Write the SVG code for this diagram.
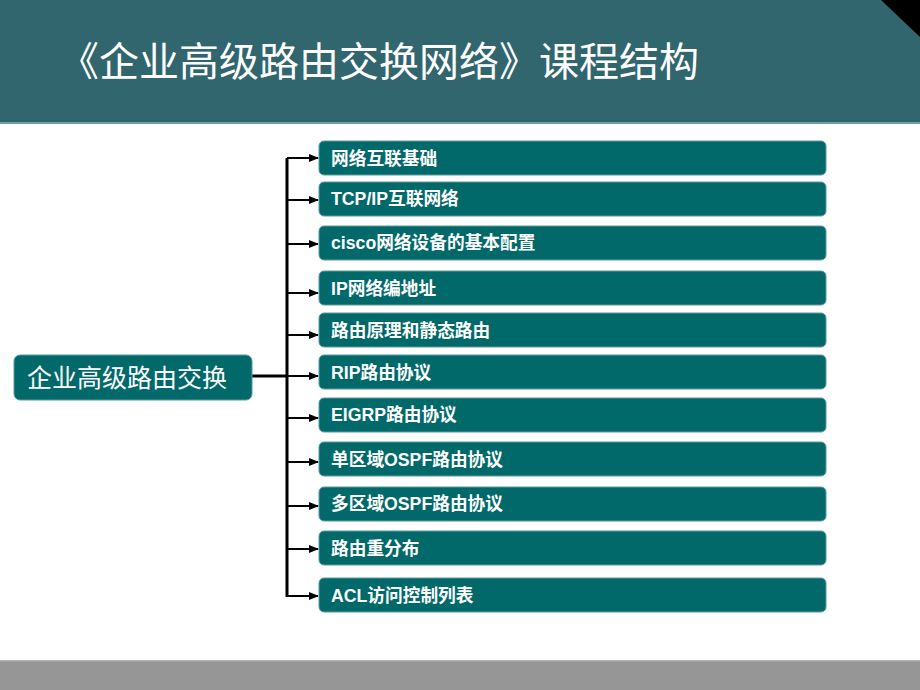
<svg xmlns="http://www.w3.org/2000/svg" width="920" height="690" viewBox="0 0 920 690">
<defs>
<style>
.box{fill:#02696A;stroke:#5E9A9C;stroke-width:1}
.lbl{fill:#ffffff;font-family:"Liberation Sans","Noto Sans CJK SC",sans-serif;font-weight:bold;font-size:17.7px}
.conn{stroke:#000;stroke-width:3;fill:none}
.arr{stroke:#000;stroke-width:2;fill:none}
</style>
<marker id="ah" markerWidth="10" markerHeight="10" refX="9" refY="5" orient="auto" markerUnits="userSpaceOnUse">
<path d="M0,1 L10,5 L0,9 Z" fill="#000"/>
</marker>
</defs>
<rect x="0" y="0" width="920" height="690" fill="#ffffff"/>
<g id="header">
<rect x="0" y="0" width="920" height="123" fill="#31666F"/>
<rect x="0" y="122" width="920" height="2" fill="#6E9DA3"/>
<polygon points="881,0 920,0 920,37" fill="#000"/>
<text x="59" y="76" fill="#ffffff" font-family="Liberation Sans,'Noto Sans CJK SC',sans-serif" font-size="40">《企业高级路由交换网络》课程结构</text>
</g>
<g id="footer">
<rect x="0" y="660" width="920" height="30" fill="#969696"/>
<rect x="0" y="660" width="920" height="1.5" fill="#B4B4B4"/>
</g>
<g id="connectors">
<line class="conn" x1="287" y1="158" x2="287" y2="597"/>
<line class="conn" x1="252" y1="376" x2="287" y2="376"/>
<line class="arr" x1="287" y1="158" x2="318" y2="158" marker-end="url(#ah)"/>
<line class="arr" x1="287" y1="200" x2="318" y2="200" marker-end="url(#ah)"/>
<line class="arr" x1="287" y1="244" x2="318" y2="244" marker-end="url(#ah)"/>
<line class="arr" x1="287" y1="293" x2="318" y2="293" marker-end="url(#ah)"/>
<line class="arr" x1="287" y1="335" x2="318" y2="335" marker-end="url(#ah)"/>
<line class="arr" x1="287" y1="376" x2="318" y2="376" marker-end="url(#ah)"/>
<line class="arr" x1="287" y1="418" x2="318" y2="418" marker-end="url(#ah)"/>
<line class="arr" x1="287" y1="462" x2="318" y2="462" marker-end="url(#ah)"/>
<line class="arr" x1="287" y1="506" x2="318" y2="506" marker-end="url(#ah)"/>
<line class="arr" x1="287" y1="549" x2="318" y2="549" marker-end="url(#ah)"/>
<line class="arr" x1="287" y1="596" x2="318" y2="596" marker-end="url(#ah)"/>
</g>
<g id="root">
<rect class="box" x="14" y="355" width="238" height="45" rx="6"/>
<text x="27" y="387" fill="#ffffff" font-family="Liberation Sans,'Noto Sans CJK SC',sans-serif" font-size="25">企业高级路由交换</text>
</g>
<g id="n1"><rect class="box" x="319" y="141" width="507" height="34" rx="5"/><text class="lbl" x="331" y="165">网络互联基础</text></g>
<g id="n2"><rect class="box" x="319" y="182" width="507" height="34" rx="5"/><text class="lbl" x="331" y="205">TCP/IP互联网络</text></g>
<g id="n3"><rect class="box" x="319" y="226" width="507" height="34" rx="5"/><text class="lbl" x="331" y="249">cisco网络设备的基本配置</text></g>
<g id="n4"><rect class="box" x="319" y="271" width="507" height="34" rx="5"/><text class="lbl" x="331" y="295">IP网络编地址</text></g>
<g id="n5"><rect class="box" x="319" y="313" width="507" height="34" rx="5"/><text class="lbl" x="331" y="337">路由原理和静态路由</text></g>
<g id="n6"><rect class="box" x="319" y="355" width="507" height="34" rx="5"/><text class="lbl" x="331" y="379">RIP路由协议</text></g>
<g id="n7"><rect class="box" x="319" y="398" width="507" height="34" rx="5"/><text class="lbl" x="331" y="421">EIGRP路由协议</text></g>
<g id="n8"><rect class="box" x="319" y="442" width="507" height="34" rx="5"/><text class="lbl" x="331" y="466">单区域OSPF路由协议</text></g>
<g id="n9"><rect class="box" x="319" y="487" width="507" height="34" rx="5"/><text class="lbl" x="331" y="510">多区域OSPF路由协议</text></g>
<g id="n10"><rect class="box" x="319" y="531" width="507" height="34" rx="5"/><text class="lbl" x="331" y="555">路由重分布</text></g>
<g id="n11"><rect class="box" x="319" y="578" width="507" height="34" rx="5"/><text class="lbl" x="331" y="602">ACL访问控制列表</text></g>
</svg>
